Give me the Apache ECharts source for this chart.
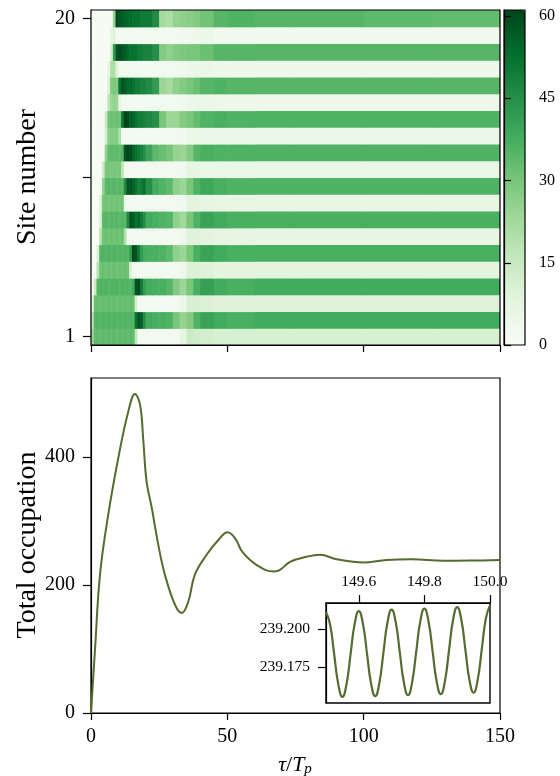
<!DOCTYPE html>
<html>
<head>
<meta charset="utf-8">
<script src="https://cdn.jsdelivr.net/npm/echarts@6/dist/echarts.min.js"></script>
<style>
html,body{margin:0;padding:0;background:#fff;}
#chart{width:560px;height:776px;}
</style>
</head>
<body>
<div id="chart"></div>
<script>
// ---------- DATA ----------
// Time bin edges (tau/T_p) for the heatmap columns
const tEdges = [0,1,2,3,4,5,6,7,8,9,10,11,12,13,14,15,16,17,18,19,20,
  22.5,25,27.5,30,32.5,35,37.5,40,45,50,60,75,100,125,150];
// Occupation per site (site 1 .. site 20), one value per time bin
const site1  = [24,33,34,33,34,33,34,33,34,33, 34,33,34,33,34,33,16,2,2,2, 2,2,2,2,2,7,14,13, 12,11,11,11,11,11,11];
const site2  = [18,35,36,35,36,35,36,35,36,35, 36,35,36,35,36,35,52,58,56,45, 38,37,37,36,30,25,28,36, 40,38,37,38,38,38,38];
const site3  = [8,32,33,32,33,32,33,32,33,32, 33,32,33,32,33,32,12,2,2,2, 2,2,2,2,2,5,11,11, 10,9,9,9,9,9,9];
const site4  = [0.5,14,35,36,35,36,35,36,35,36, 35,36,35,36,35,38,58,60,50,42, 38,37,37,35,28,24,30,37, 41,38,37,38,38,38,38];
const site5  = [0.5,0.5,18,31,32,31,32,31,32,31, 32,31,32,31,10,2,2,2,2,2, 2,2,2,2,2,4,10,10, 9,8,8,8,8,8,8];
const site6  = [0.5,0.5,10,35,36,35,36,35,36,35, 36,35,36,35,42,60,58,50,42,38, 37,37,36,34,26,24,30,37, 40,38,37,37,37,37,37];
const site7  = [0.5,0.5,0.5,18,31,32,31,32,31,32, 31,32,20,2,2,2,2,2,2,2, 2,2,2,2,2,4,9,9, 8,7,7,7,7,7,7];
const site8  = [0.5,0.5,0.5,10,34,35,34,35,34,35, 34,35,34,46,58,56,52,54,50,45, 38,37,36,35,26,23,30,36, 40,38,37,37,37,37,37];
const site9  = [0.5,0.5,0.5,10,30,31,30,31,30,31, 30,31,6,2,2,2,2,2,2,2, 2,2,2,2,2,3,8,8, 7,6.5,6.5,6.5,6.5,6.5,6.5];
const site10 = [0.5,0.5,0.5,0.5,25,34,35,34,35,34, 35,34,46,58,58,55,52,48,50,52, 45,38,36,34,26,24,30,36, 39,37,36,36,36,36,36];
const site11 = [0.5,0.5,0.5,0.5,14,29,30,29,30,29, 30,17,2,2,2,2,2,2,2,2, 2,2,2,2,2,3,7,7, 6,5.5,5.5,5.5,5.5,5.5,5.5];
const site12 = [0.5,0.5,0.5,0.5,0.5,25,33,34,33,34, 33,35,58,62,60,55,52,50,48,45, 40,34,32,30,25,24,28,35, 37,36,36,36,36,36,36];
const site13 = [0.5,0.5,0.5,0.5,0.5,12,27,28,27,28, 20,2,2,2,2,2,2,2,2,2, 2,2,2,2,2,3,5,6, 5,5,5,5,5,5,5];
const site14 = [0.5,0.5,0.5,0.5,0.5,14,31,32,31,32, 31,50,62,60,56,55,52,50,50,48, 47,45,30,24,24,28,30,33, 36,37,36,36,36,36,36];
const site15 = [0.5,0.5,0.5,0.5,0.5,0.5,17,24,25,24, 7,2,2,2,2,2,2,2,2,2, 2.5,2.5,2.5,2.5,2.5,3,4,5, 5,4,4,4,4,4,4];
const site16 = [0.5,0.5,0.5,0.5,0.5,0.5,10,28,29,28, 52,58,56,54,54,52,50,50,48,48, 46,42,24,22,26,28,30,32, 35,36,35,35,35,35,35];
const site17 = [0.5,0.5,0.5,0.5,0.5,0.5,7,20,20,9, 2.5,2.5,2.5,2.5,2.5,2.5,2.5,2.5,2.5,2.5, 2.5,2.5,2.5,2.5,2.5,3,4,5, 5,3.5,3.5,3.5,3.5,3.5,3.5];
const site18 = [0.5,0.5,0.5,0.5,0.5,0.5,0.5,12,42,58, 60,58,56,54,52,52,52,50,50,48, 48,45,28,26,28,29,30,30, 32,35,35,35,35,35,35];
const site19 = [0.5,0.5,0.5,0.5,0.5,0.5,0.5,7,9,2.5, 2.5,2.5,2.5,2.5,2.5,2.5,2.5,2.5,2.5,2.5, 2.5,2.5,2.5,2.5,2.5,3,3,4, 5,3,3,3,3,3,3];
const site20 = [0.5,0.5,0.5,0.5,0.5,0.5,0.5,0.5,25,60, 58,56,55,54,54,52,52,52,50,50, 50,46,22,20,25,26,27,28, 31,35,36,35,35,34,33];
const sites = [site1,site2,site3,site4,site5,site6,site7,site8,site9,site10,
  site11,site12,site13,site14,site15,site16,site17,site18,site19,site20];

// Total occupation curve
const occT = [0,1.5,3.3,6.3,10,13.7,16.1,18,19.2,20.4,22.3,24.7,27.1,30.8,33.3,35.7,38.1,42.4,46.7,50.1,52.8,55.6,60.8,66.9,68.7,73,79.1,84,90.1,99.9,108.4,117.6,129.2,140.2,150];
const occV = [0,101,216,309,398,471,498,481,424,361,320,262,216,169,156,174,216,247,270,282,273,251,231,221,222,236,244,247,240,235,239,240,237.5,238,239];

// Inset (zoom on the end of the run)
const insetT = [149.5,149.5125,149.525,149.5375,149.55,149.5625,149.575,149.5875,149.6,
  149.6125,149.625,149.6375,149.65,149.6625,149.675,149.6875,149.7,
  149.7125,149.725,149.7375,149.75,149.7625,149.775,149.7875,149.8,
  149.8125,149.825,149.8375,149.85,149.8625,149.875,149.8875,149.9,
  149.9125,149.925,149.9375,149.95,149.9625,149.975,149.9875,150.0];
const insetV = [239.2115,239.2032,239.1833,239.1634,239.1551,239.1634,239.1836,239.2038,239.2121,
  239.2038,239.1839,239.1639,239.1556,239.1640,239.1844,239.2047,239.2131,
  239.2048,239.1847,239.1646,239.1562,239.1647,239.1850,239.2053,239.2137,
  239.2054,239.1853,239.1652,239.1569,239.1654,239.1859,239.2064,239.2148,
  239.2065,239.1863,239.1661,239.1578,239.1664,239.1869,239.2074,239.2159];

// Tick values
const siteTicks = [1, 10.5, 20];
const siteLabels = [1, 20];
const timeTicks = [0, 50, 100, 150];
const occTicks = [0, 200, 400];
const cbarTicks = [0, 15, 30, 45, 60];
const insetXTicks = [149.6, 149.8, 150.0];
const insetYTicks = [239.175, 239.200];

// ---------- BUILD ----------
const heatData = [];
sites.forEach((row, i) => {
  row.forEach((v, b) => heatData.push([tEdges[b], tEdges[b+1], i + 1, v]));
});
const occData = occT.map((t, i) => [t, occV[i]]);
const insetData = insetT.map((t, i) => [t, insetV[i]]);

const FONT = '"Liberation Serif", "DejaVu Serif", serif';
const greens = ['#f7fcf5','#e5f5e0','#c7e9c0','#a1d99b','#74c476','#41ab5d','#238b45','#006d2c','#00441b'];
const lineColor = '#556b2f';
const tick = (len) => ({show: true, inside: false, length: len, lineStyle: {color: '#000', width: 1.2}});
const axLine = {show: true, lineStyle: {color: '#000', width: 1.2}};

const chart = echarts.init(document.getElementById('chart'), null, {renderer: 'canvas'});
chart.setOption({
  animation: false,
  backgroundColor: '#fff',
  grid: [
    {left: 91, top: 10, width: 409, height: 335, show: true, borderColor: '#000', borderWidth: 1.2, backgroundColor: 'transparent', z: 10},
    {left: 91, top: 378, width: 409, height: 335, show: true, borderColor: '#000', borderWidth: 1.2},
    {left: 504, top: 10, width: 21, height: 335, show: true, borderColor: '#000', borderWidth: 1.2, backgroundColor: 'transparent', z: 10},
    {left: 326, top: 603, width: 164, height: 100, show: true, borderColor: '#000', borderWidth: 1.4, backgroundColor: '#fff', z: 5}
  ],
  xAxis: [
    {gridIndex: 0, type: 'value', min: 0, max: 150, axisLine: axLine, splitLine: {show: false},
     axisTick: Object.assign(tick(7), {customValues: timeTicks}), axisLabel: {show: false}},
    {gridIndex: 1, type: 'value', min: 0, max: 150, axisLine: axLine, splitLine: {show: false},
     axisTick: Object.assign(tick(7), {customValues: timeTicks}),
     axisLabel: {customValues: timeTicks, fontFamily: FONT, fontSize: 20, color: '#000', margin: 14}},
    {gridIndex: 2, type: 'value', min: 0, max: 1, show: false},
    {gridIndex: 3, type: 'value', min: 149.5, max: 150.0, position: 'top', axisLine: axLine, splitLine: {show: false},
     axisTick: Object.assign(tick(8), {customValues: insetXTicks}),
     axisLabel: {customValues: insetXTicks, fontFamily: FONT, fontSize: 15.5, color: '#000', margin: 13,
       formatter: v => Number(v).toFixed(1)}, z: 6}
  ],
  yAxis: [
    {gridIndex: 0, type: 'value', min: 0.5, max: 20.5, axisLine: axLine, splitLine: {show: false},
     axisTick: Object.assign(tick(8), {customValues: siteTicks}),
     axisLabel: {customValues: siteLabels, fontFamily: FONT, fontSize: 20, color: '#000', margin: 16}},
    {gridIndex: 1, type: 'value', min: 0, max: 523, axisLine: axLine, splitLine: {show: false},
     axisTick: Object.assign(tick(8), {customValues: occTicks}),
     axisLabel: {customValues: occTicks, fontFamily: FONT, fontSize: 20, color: '#000', margin: 16}},
    {gridIndex: 2, type: 'value', min: 0, max: 61.1, position: 'right', axisLine: axLine, splitLine: {show: false},
     axisTick: Object.assign(tick(7), {customValues: cbarTicks}),
     axisLabel: {customValues: cbarTicks, fontFamily: FONT, fontSize: 16, color: '#000', margin: 14}, z: 10},
    {gridIndex: 3, type: 'value', min: 239.151, max: 239.2175, axisLine: axLine, splitLine: {show: false},
     axisTick: Object.assign(tick(8), {customValues: insetYTicks}),
     axisLabel: {customValues: insetYTicks, fontFamily: FONT, fontSize: 15.5, color: '#000', margin: 16,
       formatter: v => Number(v).toFixed(3)}, z: 6}
  ],
  visualMap: {
    type: 'continuous', seriesIndex: 0, dimension: 3, min: 0, max: 61.1,
    inRange: {color: greens}, calculable: false, orient: 'vertical',
    left: 504, top: 10, itemWidth: 21, itemHeight: 335, padding: 0, text: null,
    hoverLink: false
  },
  series: [
    {
      type: 'custom', xAxisIndex: 0, yAxisIndex: 0, clip: true,
      encode: {x: [0, 1], y: 2},
      data: heatData,
      renderItem: function (params, api) {
        const a = api.coord([api.value(0), api.value(2) + 0.5]);
        const b = api.coord([api.value(1), api.value(2) - 0.5]);
        return {type: 'rect', shape: {x: a[0], y: a[1], width: b[0] - a[0] + 0.6, height: b[1] - a[1] + 0.6},
          style: {fill: api.visual('color')}};
      }
    },
    {
      type: 'line', xAxisIndex: 1, yAxisIndex: 1, data: occData, showSymbol: false,
      smooth: 0.4,
      lineStyle: {color: lineColor, width: 2}
    },
    {
      type: 'line', xAxisIndex: 3, yAxisIndex: 3, data: insetData, showSymbol: false,
      smooth: 0.5, lineStyle: {color: lineColor, width: 2.2}, z: 7
    }
  ],
  graphic: [
    {type: 'text', x: 28, y: 177, rotation: Math.PI / 2,
     style: {text: 'Site number', font: '28px ' + FONT, fill: '#000', align: 'center', verticalAlign: 'middle'}},
    {type: 'text', x: 28, y: 545, rotation: Math.PI / 2,
     style: {text: 'Total occupation', font: '28px ' + FONT, fill: '#000', align: 'center', verticalAlign: 'middle'}},
    {type: 'text', x: 295, y: 765,
     style: {text: '{i|τ}{n|/}{i|T}{s|p}', align: 'center', verticalAlign: 'middle', fill: '#000',
       rich: {
         i: {fontFamily: FONT, fontStyle: 'italic', fontSize: 22, fill: '#000'},
         n: {fontFamily: FONT, fontSize: 22, fill: '#000'},
         s: {fontFamily: FONT, fontStyle: 'italic', fontSize: 15, fill: '#000', padding: [9, 0, 0, 0]}
       }}}
  ]
});
</script>
</body>
</html>
